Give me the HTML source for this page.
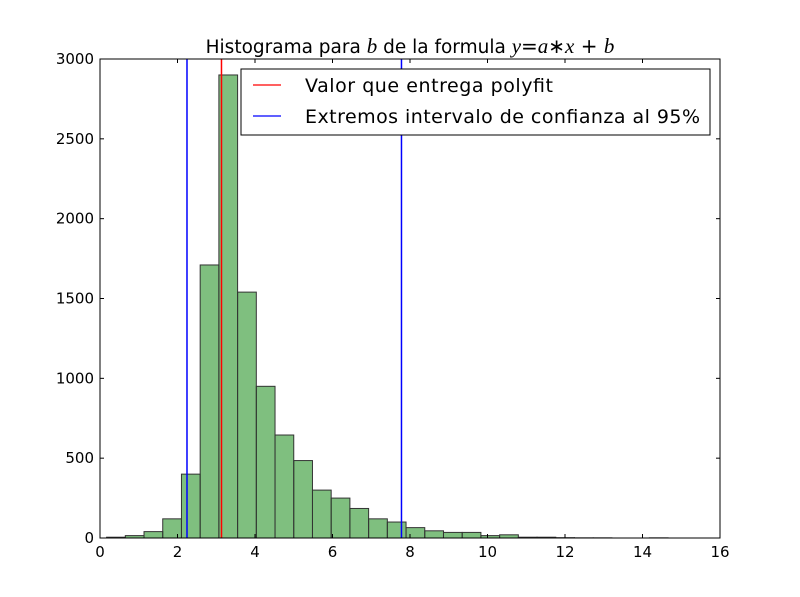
<!DOCTYPE html>
<html><head><meta charset="utf-8"><style>
body{margin:0;background:#fff;}
svg{display:block;font-family:"DejaVu Sans","Liberation Sans",sans-serif;}
</style></head><body>
<svg id="chart" width="800" height="597">
<rect width="800" height="597" fill="#fff"/>
<g id="bars"></g>
<g id="vlines"></g>
<rect x="100" y="59" width="620" height="479" fill="none" stroke="#000" stroke-width="1"/>
<g id="ticks"></g>
<text x="410" y="53" font-size="18.5" text-anchor="middle">Histograma para <tspan font-family="Liberation Serif" font-style="italic" font-size="21">b</tspan> de la formula <tspan font-family="Liberation Serif" font-style="italic" font-size="21">y</tspan><tspan font-size="20">=</tspan><tspan font-family="Liberation Serif" font-style="italic" font-size="21">a</tspan><tspan font-size="20">∗</tspan><tspan font-family="Liberation Serif" font-style="italic" font-size="21">x</tspan><tspan font-size="20"> + </tspan><tspan font-family="Liberation Serif" font-style="italic" font-size="21">b</tspan></text>
<g>
<rect x="241" y="69" width="469" height="66" fill="#fff" stroke="#000"/>
<line x1="253" y1="85" x2="281" y2="85" stroke="#f00" stroke-width="1.3"/>
<text x="305" y="92" font-size="19" textLength="248">Valor que entrega polyfit</text>
<line x1="253" y1="116" x2="281" y2="116" stroke="#00f" stroke-width="1.3"/>
<text x="305" y="123" font-size="19" textLength="395">Extremos intervalo de confianza al 95%</text>
</g>
</svg>
<script>
const binStart = 0.17;
const binWidth = 0.483;
const counts = [5,15,40,120,400,1710,2900,1540,950,645,485,300,250,185,120,100,65,45,35,35,15,20,5,5,2,1,1,0,0,1];
const xTicks = [0,2,4,6,8,10,12,14,16];
const yTicks = [0,500,1000,1500,2000,2500,3000];
const lineValues = [2.245,3.135,7.78];
const lineColors = ["#00f","#f00","#00f"];
const X = v => 100 + v*620/16;
const Y = v => 538 - v*479/3000;
const NS = "http://www.w3.org/2000/svg";
const bars = document.getElementById('bars');
counts.forEach((c,i)=>{
  if(c<=0) return;
  const r = document.createElementNS(NS,'rect');
  const x0 = X(binStart+i*binWidth), x1 = X(binStart+(i+1)*binWidth);
  r.setAttribute('x',x0); r.setAttribute('width',x1-x0);
  r.setAttribute('y',Y(c)); r.setAttribute('height',538-Y(c));
  r.setAttribute('fill','rgba(0,128,0,0.5)'); r.setAttribute('stroke','#333'); r.setAttribute('stroke-width','1');
  
  
  bars.appendChild(r);
});
const vl = document.getElementById('vlines');
lineValues.forEach((v,i)=>{
  const l = document.createElementNS(NS,'line');
  l.setAttribute('x1',X(v)); l.setAttribute('x2',X(v)); l.setAttribute('y1',59); l.setAttribute('y2',538);
  l.setAttribute('stroke',lineColors[i]); l.setAttribute('stroke-width','1.5');
  
  
  vl.appendChild(l);
});
const tk = document.getElementById('ticks');
xTicks.forEach(v=>{
  const x = X(v);
  [[538,534],[59,63]].forEach(p=>{
    const l=document.createElementNS(NS,'line');
    l.setAttribute('x1',x);l.setAttribute('x2',x);l.setAttribute('y1',p[0]);l.setAttribute('y2',p[1]);l.setAttribute('stroke','#000');
    
    
    tk.appendChild(l);
  });
  const t=document.createElementNS(NS,'text');
  t.setAttribute('x',x);t.setAttribute('y',557);t.setAttribute('font-size','15');t.setAttribute('text-anchor','middle');
  t.textContent=v;
  
  
  tk.appendChild(t);
});
yTicks.forEach(v=>{
  const y = Y(v);
  [[100,104],[720,716]].forEach(p=>{
    const l=document.createElementNS(NS,'line');
    l.setAttribute('y1',y);l.setAttribute('y2',y);l.setAttribute('x1',p[0]);l.setAttribute('x2',p[1]);l.setAttribute('stroke','#000');
    
    
    tk.appendChild(l);
  });
  const t=document.createElementNS(NS,'text');
  t.setAttribute('x',94);t.setAttribute('y',y+5);t.setAttribute('font-size','15');t.setAttribute('text-anchor','end');
  t.textContent=v;
  
  
  tk.appendChild(t);
});
</script>
</body></html>
